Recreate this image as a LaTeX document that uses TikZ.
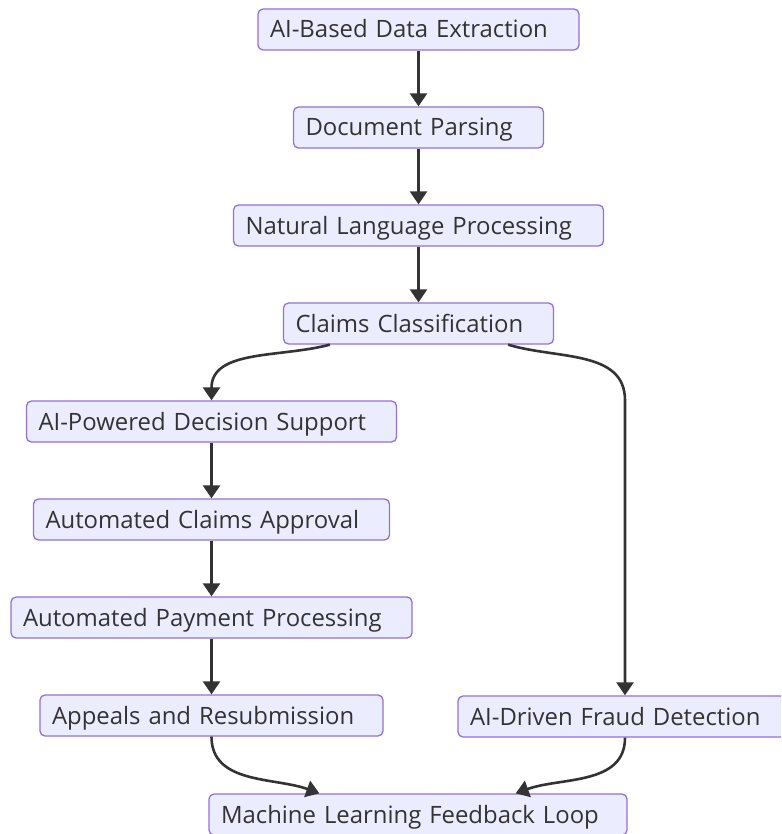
\documentclass[tikz,border=0pt]{standalone}
\usepackage{fontspec}
\setmainfont{Open Sans}
\definecolor{boxFill}{HTML}{ECECFF}
\definecolor{boxLine}{HTML}{9370DB}
\definecolor{lineGray}{HTML}{333333}
\usetikzlibrary{arrows.meta, positioning, calc}

\begin{document}
\begin{tikzpicture}[x=1pt, y=1pt,
  >={Triangle[length=13pt, width=17pt]}, node distance=55.7pt,
  box/.style={draw=boxLine, line width=1.3pt, rounded corners=5pt, fill=boxFill,
              align=left, minimum height=41pt, inner xsep=12pt, inner ysep=0pt,
              text height=19pt, text depth=2pt,
              text=lineGray, font=\fontsize{23.9}{26}\selectfont},
  arr/.style={->, line width=2.6pt, lineGray}]
  \clip (0,0) rectangle (781,-834);
  \fill[white] (0,0) rectangle (781,-834);
  % central chain
  \node[box, text width=297pt] (ext) at (418.5,-29.5) {AI-Based Data Extraction};
  \node[box, text width=226pt, below=of ext] (doc) {Document Parsing};
  \node[box, text width=346pt, below=of doc] (nlp) {Natural Language Processing};
  \node[box, text width=246pt, below=of nlp] (cls) {Claims Classification};
  % left branch
  \node[box, text width=346pt] (dec) at (211.5,-421.5) {AI-Powered Decision Support};
  \node[box, text width=332pt, below=of dec] (appr) {Automated Claims Approval};
  \node[box, text width=377pt, below=of appr] (pay) {Automated Payment Processing};
  \node[box, text width=319pt, below=of pay] (appl) {Appeals and Resubmission};
  % right branch and end
  \node[box, text width=310pt] (fraud) at (625,-716.5) {AI-Driven Fraud Detection};
  \node[box, text width=394pt] (loop) at (418,-814.5) {Machine Learning Feedback Loop};

  \draw[arr] (ext)--(doc); \draw[arr] (doc)--(nlp); \draw[arr] (nlp)--(cls);
  \draw[arr] (dec)--(appr); \draw[arr] (appr)--(pay); \draw[arr] (pay)--(appl);
  \draw[arr] ([xshift=47pt]cls.south west) to[out=195, in=90] (dec.north);
  \draw[arr] ([xshift=-46pt]cls.south east) to[out=-17, in=90]
       (fraud.north |- dec.north) -- (fraud.north);
  \draw[arr] (appl.south) to[out=-90, in=160] ([xshift=111pt]loop.north west);
  \draw[arr] (fraud.south) to[out=-90, in=20] ([xshift=-112pt]loop.north east);
\end{tikzpicture}
\end{document}
